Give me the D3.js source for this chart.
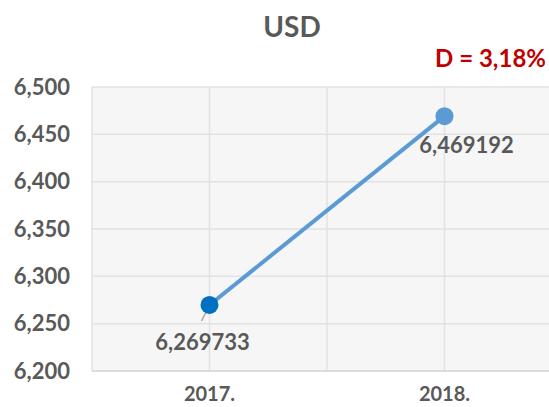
<!DOCTYPE html>
<html><head><meta charset="utf-8">
<script src="https://cdn.jsdelivr.net/npm/d3@7"></script>
<style>body{margin:0;background:#fff}svg{display:block}text{font-family:Lato,"Open Sans",sans-serif;font-weight:bold}</style>
</head><body><svg id="c" width="549" height="407"></svg>
<script>
const categories = ["2017.", "2018."];
const values = [6.269733, 6.469192];
const valueLabels = ["6,269733", "6,469192"];
const yTicks = [6.2, 6.25, 6.3, 6.35, 6.4, 6.45, 6.5];
const title = "USD";
const note = "D = 3,18%";

const svg = d3.select("#c");
const L = 92, R = 562, T = 87, B = 371;
const x = d3.scaleBand().domain(categories).range([L, R]).padding(0);
const y = d3.scaleLinear().domain([6.2, 6.5]).range([B, T]);
const fmt = v => d3.format(".3f")(v).replace(".", ",");

svg.append("rect").attr("x", L).attr("y", T).attr("width", R - L).attr("height", B - T).attr("fill", "#f6f6f6");

// vertical gridlines: band edges and centers
const vx = [];
categories.forEach(c => { vx.push(x(c)); vx.push(x(c) + x.bandwidth() / 2); });
vx.push(R);
svg.selectAll(".vg").data(vx).join("line")
  .attr("x1", d => d).attr("x2", d => d).attr("y1", T).attr("y2", B)
  .attr("stroke", "#e2e2e2").attr("stroke-width", 1.5);
svg.selectAll(".hg").data(yTicks).join("line")
  .attr("x1", L).attr("x2", R).attr("y1", d => y(d)).attr("y2", d => y(d))
  .attr("stroke", "#e2e2e2").attr("stroke-width", 1.5);
svg.append("line").attr("x1", L).attr("x2", R).attr("y1", B).attr("y2", B).attr("stroke", "#d9d9d9").attr("stroke-width", 1.5);

// y axis labels
const yAxis = d3.axisLeft(y).tickValues(yTicks).tickFormat(fmt).tickSize(0).tickPadding(22);
const ya = svg.append("g").attr("transform", `translate(${L},0)`).call(yAxis);
ya.select(".domain").remove();
ya.selectAll("text").attr("font-size", 22).attr("fill", "#595959").attr("font-family", "Lato").attr("font-weight", "bold");

// x axis labels
const xAxis = d3.axisBottom(x).tickSize(0).tickPadding(16);
const xa = svg.append("g").attr("transform", `translate(0,${B})`).call(xAxis);
xa.select(".domain").remove();
xa.selectAll("text").attr("font-size", 20).attr("fill", "#595959").attr("font-family", "Lato").attr("font-weight", "bold");

const cx = c => x(c) + x.bandwidth() / 2;
const line = d3.line().x((d, i) => cx(categories[i])).y(d => y(d));
svg.append("path").datum(values).attr("d", line).attr("fill", "none").attr("stroke", "#5b9bd5").attr("stroke-width", 4);

// leader line for first label
svg.append("line").attr("x1", cx(categories[0])).attr("y1", y(values[0]))
  .attr("x2", cx(categories[0]) - 8).attr("y2", y(values[0]) + 16)
  .attr("stroke", "#a6a6a6").attr("stroke-width", 1.5);

const markerColors = ["#0070c0", "#5b9bd5"];
svg.selectAll(".pt").data(values).join("circle")
  .attr("cx", (d, i) => cx(categories[i])).attr("cy", d => y(d)).attr("r", 9)
  .attr("fill", (d, i) => markerColors[i]);

// data labels
const lblOff = [[-7, 45], [22, 37]];
svg.selectAll(".dl").data(values).join("text")
  .attr("x", (d, i) => cx(categories[i]) + lblOff[i][0])
  .attr("y", (d, i) => y(d) + lblOff[i][1])
  .attr("text-anchor", "middle").attr("font-size", 22).attr("fill", "#595959")
  .text((d, i) => valueLabels[i]);

svg.append("text").attr("x", 292).attr("y", 37).attr("text-anchor", "middle")
  .attr("font-size", 28).attr("fill", "#595959").text(title);
svg.append("text").attr("x", 546).attr("y", 67).attr("text-anchor", "end")
  .attr("font-size", 24).attr("fill", "#c00000").text(note);
</script></body></html>
